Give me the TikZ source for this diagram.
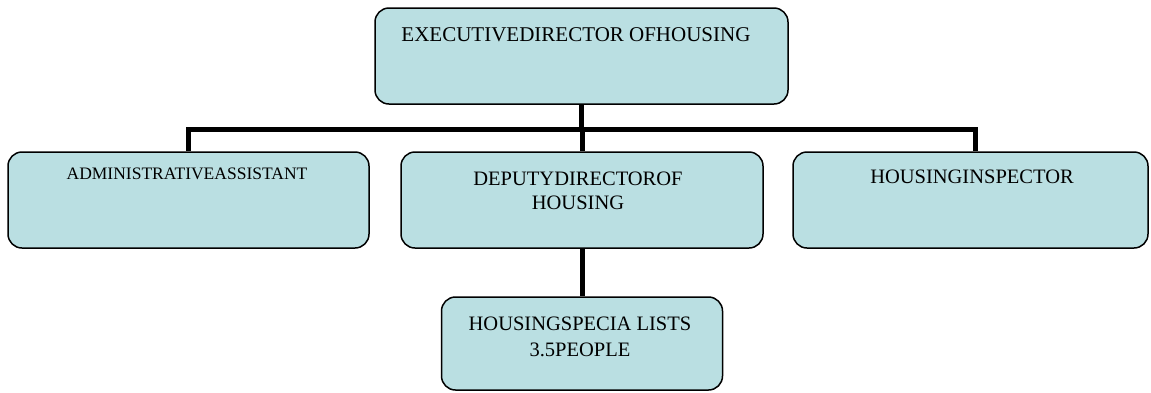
\documentclass[tikz,border=0pt]{standalone}
\usepackage{fontspec}
\setmainfont{Liberation Serif}
\usetikzlibrary{calc}
\definecolor{boxfill}{RGB}{186,223,226}
\tikzset{
  orgbox/.style={draw=black, line width=1.5pt, fill=boxfill, rounded corners=14pt,
    rectangle, inner sep=0pt, minimum width=#1},
  orgbox/.default=360pt,
  conn/.style={line width=5pt, draw=black},
  lbl/.style={anchor=north, inner sep=0pt, align=center, text=black,
    font=\fontsize{20.5}{23.5}\selectfont},
}
\begin{document}
\begin{tikzpicture}[x=1pt,y=-1pt]
\useasboundingbox (0,0) rectangle (1151,392);
% boxes
\node[orgbox=413pt, minimum height=96pt] (exec) at (581.5,56) {};
\node[orgbox=361pt, minimum height=96pt] (admin) at (188.5,200) {};
\node[orgbox=362pt, minimum height=96pt] (deputy) at (582,200) {};
\node[orgbox=355pt, minimum height=96pt] (insp) at (970.5,200) {};
\node[orgbox=281pt, minimum height=93pt] (spec) at (582,343.5) {};
% texts
\node[lbl, font=\fontsize{21}{25}\selectfont] (execT) at (576,27) {EXECUTIVEDIRECTOR OFHOUSING};
\node[lbl, font=\fontsize{17.5}{21}\selectfont] (adminT) at (187,168) {ADMINISTRATIVEASSISTANT};
\node[lbl] (deputyT) at (578,172) {DEPUTYDIRECTOROF\\HOUSING};
\node[lbl] (inspT) at (972,170) {HOUSINGINSPECTOR};
\node[lbl, font=\fontsize{20.5}{25.5}\selectfont] (specT) at (580,317) {HOUSINGSPECIA LISTS\\3.5PEOPLE};
% connectors
\coordinate (bus) at (0,129);
\coordinate (adminTop) at ($(admin.north)+(0,0)$);
\coordinate (inspTop) at ($(insp.north)+(4.5,0)$);
\draw[conn] (exec.south) -- (exec.south |- bus);
\draw[conn] (adminTop) -- (adminTop |- bus) -- (inspTop |- bus) -- (inspTop);
\draw[conn] (deputy.north) -- (deputy.north |- bus);
\draw[conn] (deputy.south) -- (spec.north);
\end{tikzpicture}
\end{document}
